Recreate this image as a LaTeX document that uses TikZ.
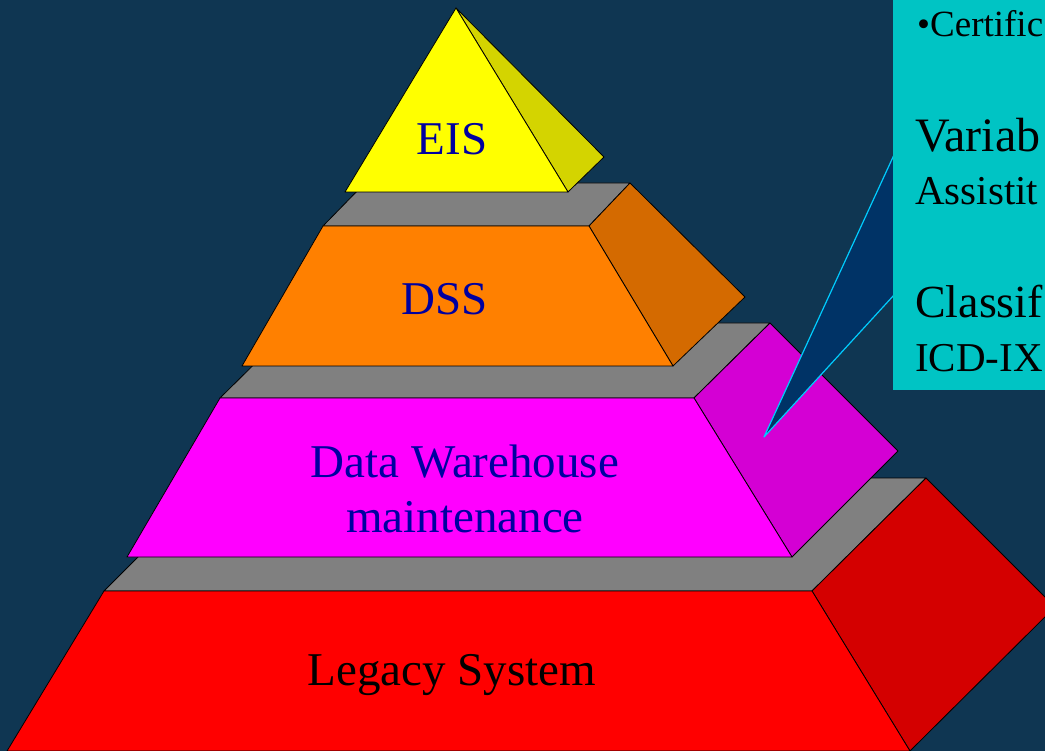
\documentclass[tikz,border=0pt]{standalone}
\usepackage{fontspec}
\setmainfont{Liberation Serif}
\usepackage{tikz}

\definecolor{bgblue}{RGB}{15,54,82}
\definecolor{slab}{RGB}{128,128,128}
\definecolor{yelf}{RGB}{255,255,0}
\definecolor{yels}{RGB}{212,212,0}
\definecolor{orf}{RGB}{255,128,0}
\definecolor{ors}{RGB}{212,106,0}
\definecolor{magf}{RGB}{255,0,255}
\definecolor{mags}{RGB}{212,0,212}
\definecolor{redf}{RGB}{255,0,0}
\definecolor{reds}{RGB}{212,0,0}
\definecolor{callfill}{RGB}{0,51,102}
\definecolor{callline}{RGB}{0,204,255}
\definecolor{boxcyan}{RGB}{0,196,196}
\definecolor{labblue}{RGB}{0,0,160}

\tikzset{
  face/.style={draw=black, line width=0.8pt, line join=round},
  lab/.style={anchor=base, inner sep=0pt, font=\fontsize{47}{56}\selectfont, text=labblue},
  boxtxt/.style={anchor=base west, inner sep=0pt, text=black},
}

\begin{document}
\begin{tikzpicture}[x=1pt,y=-1pt]
\useasboundingbox (0,0) rectangle (1045,751);
\clip (0,0) rectangle (1045,751);
\fill[bgblue] (0,0) rectangle (1045,751);

\coordinate (r1) at (104,591);
\coordinate (r2) at (812,591);
\coordinate (r3) at (910,751);
\coordinate (r4) at (7,751);
\coordinate (rb) at (926,478);
\coordinate (rt) at (1055,607);
 \filldraw[face, fill=slab] (r1) -- (r2) -- (rb) -- (217,478) -- cycle;
 \filldraw[face, fill=reds] (r2) -- (rb) -- (rt) -- (r3) -- cycle;
 \filldraw[face, fill=redf] (r1) -- (r2) -- (r3) -- (r4) -- cycle;

\coordinate (m1) at (220,398);
\coordinate (m2) at (694,398);
\coordinate (m3) at (792,557);
\coordinate (m4) at (127,557);
\coordinate (mb) at (770,323);
\coordinate (mt) at (898,451);
 \filldraw[face, fill=slab] (m1) -- (m2) -- (mb) -- (296,323) -- cycle;
 \filldraw[face, fill=mags] (m2) -- (mb) -- (mt) -- (m3) -- cycle;
 \filldraw[face, fill=magf] (m1) -- (m2) -- (m3) -- (m4) -- cycle;

\coordinate (o1) at (323,226);
\coordinate (o2) at (589,226);
\coordinate (o3) at (673,366);
\coordinate (o4) at (242,366);
\coordinate (ob) at (630,183);
\coordinate (ot) at (745,297);
 \filldraw[face, fill=slab] (o1) -- (o2) -- (ob) -- (365,183) -- cycle;
 \filldraw[face, fill=ors] (o2) -- (ob) -- (ot) -- (o3) -- cycle;
 \filldraw[face, fill=orf] (o1) -- (o2) -- (o3) -- (o4) -- cycle;

\coordinate (e1) at (456,8);
\coordinate (e2) at (345,192);
\coordinate (e3) at (568,192);
\coordinate (et) at (604,157);
 \filldraw[face, fill=yels] (e1) -- (et) -- (e3) -- cycle;
 \filldraw[face, fill=yelf] (e1) -- (e2) -- (e3) -- cycle;

\node[lab] (eis) at (452,155) {EIS};
\node[lab] (dss) at (445,315) {DSS};
\node[lab] (dw1) at (465,477) {Data Warehouse};
\node[lab] (dw2) at (465,532) {maintenance};
\node[lab, text=black] (leg) at (452,685) {Legacy System};

\coordinate (tip) at (764,437);
 \filldraw[fill=callfill, draw=callline, line width=1.2pt, line join=round] (tip) -- (905,131) -- (905,283) -- cycle;

\fill[boxcyan] (893,-5) rectangle (1050,390);
\node[boxtxt, font=\fontsize{37}{44}\selectfont] (c1) at (917,37) {•Certific};
\node[boxtxt, font=\fontsize{48}{56}\selectfont] (c2) at (915,152) {Variab};
\node[boxtxt, font=\fontsize{41}{48}\selectfont] (c3) at (915,205) {Assistit};
\node[boxtxt, font=\fontsize{46}{54}\selectfont] (c4) at (915,318) {Classif};
\node[boxtxt, font=\fontsize{41}{48}\selectfont] (c5) at (915,372) {ICD-IX};
\end{tikzpicture}
\end{document}
